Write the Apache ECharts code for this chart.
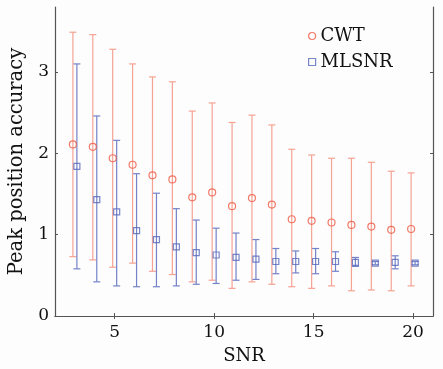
<!DOCTYPE html>
<html>
<head>
<meta charset="utf-8">
<style>
  html, body { margin: 0; padding: 0; background: #fdfdfd; }
  #chart { width: 443px; height: 369px; }
</style>
<script src="https://cdn.jsdelivr.net/npm/echarts@6/dist/echarts.min.js"></script>
</head>
<body>
<div id="chart"></div>
<script>
// SNR values
var snr = [3, 4, 5, 6, 7, 8, 9, 10, 11, 12, 13, 14, 15, 16, 17, 18, 19, 20];

// CWT: mean and error bar ends
var cwtMean = [2.11, 2.08, 1.94, 1.86, 1.73, 1.68, 1.46, 1.52, 1.35, 1.45, 1.37, 1.19, 1.17, 1.15, 1.12, 1.10, 1.06, 1.07];
var cwtHigh = [3.49, 3.46, 3.28, 3.10, 2.94, 2.88, 2.52, 2.62, 2.38, 2.47, 2.35, 2.05, 1.98, 1.94, 1.94, 1.89, 1.78, 1.76];
var cwtLow  = [0.73, 0.69, 0.60, 0.65, 0.55, 0.51, 0.42, 0.44, 0.34, 0.42, 0.39, 0.36, 0.34, 0.37, 0.31, 0.32, 0.31, 0.37];

// MLSNR: mean and error bar ends
var mlMean = [1.84, 1.43, 1.28, 1.05, 0.94, 0.85, 0.78, 0.75, 0.72, 0.70, 0.67, 0.67, 0.67, 0.67, 0.66, 0.65, 0.66, 0.65];
var mlHigh = [3.10, 2.46, 2.16, 1.75, 1.51, 1.32, 1.18, 1.08, 1.02, 0.94, 0.83, 0.80, 0.83, 0.79, 0.72, 0.67, 0.74, 0.67];
var mlLow  = [0.58, 0.42, 0.37, 0.36, 0.36, 0.37, 0.39, 0.40, 0.44, 0.45, 0.52, 0.53, 0.52, 0.55, 0.61, 0.63, 0.58, 0.63];

var xTicks = [5, 10, 15, 20];
var yTicks = [0, 1, 2, 3];

var fontName = "DejaVu Serif";
var red = "#ee5a45", redBar = "#f5a293";
var blue = "#5566bb", blueBar = "#7482c8";

// small horizontal shift so the two series do not overlap
var shift = 0.1;

function errData(lo, hi, dx) {
  return snr.map(function (s, i) { return [s + dx, lo[i], hi[i]]; });
}
function pts(mean, dx) {
  return snr.map(function (s, i) { return [s + dx, mean[i]]; });
}

function errRender(color) {
  return function (params, api) {
    var x = api.value(0);
    var lo = api.coord([x, api.value(1)]);
    var hi = api.coord([x, api.value(2)]);
    var w = 3.5;
    var st = { stroke: color, lineWidth: 1.2 };
    return {
      type: "group",
      children: [
        { type: "line", shape: { x1: lo[0], y1: lo[1], x2: hi[0], y2: hi[1] }, style: st },
        { type: "line", shape: { x1: lo[0] - w, y1: lo[1], x2: lo[0] + w, y2: lo[1] }, style: st },
        { type: "line", shape: { x1: hi[0] - w, y1: hi[1], x2: hi[0] + w, y2: hi[1] }, style: st }
      ]
    };
  };
}

var axisLineStyle = { show: true, lineStyle: { color: "#555", width: 1.2 } };
var tickStyle = { show: true, inside: true, length: 3, lineStyle: { color: "#555" } };

var myChart = echarts.init(document.getElementById("chart"));

var option = {
  animation: false,
  backgroundColor: "#fdfdfd",
  textStyle: { fontFamily: fontName },
  grid: { left: 55, right: 10, top: 7, bottom: 53, outerBoundsMode: "none" },
  legend: {
    orient: "vertical",
    left: 303,
    top: 22,
    itemWidth: 7,
    itemHeight: 7,
    itemGap: 8,
    textStyle: { fontFamily: fontName, fontSize: 18, color: "#111" },
    data: [
      { name: "CWT", icon: "circle", itemStyle: { color: "transparent", borderColor: red, borderWidth: 1.2 } },
      { name: "MLSNR", icon: "rect", itemStyle: { color: "transparent", borderColor: blue, borderWidth: 1.2 } }
    ]
  },
  xAxis: [{
    type: "value",
    min: 2, max: 21,
    name: "SNR",
    nameLocation: "middle",
    nameGap: 31,
    nameTextStyle: { fontFamily: fontName, fontSize: 18, color: "#111" },
    axisLine: axisLineStyle,
    splitLine: { show: false },
    axisLabel: {
      fontFamily: fontName, fontSize: 17, color: "#111", margin: 8,
      customValues: xTicks
    },
    axisTick: Object.assign({ customValues: xTicks }, tickStyle)
  }, {
    type: "value", position: "top", min: 2, max: 21,
    axisLine: axisLineStyle,
    axisTick: Object.assign({ customValues: xTicks }, tickStyle),
    axisLabel: { show: false },
    splitLine: { show: false }
  }],
  yAxis: [{
    type: "value",
    min: 0, max: 3.8,
    name: "Peak position accuracy",
    nameLocation: "middle",
    nameGap: 26,
    nameTextStyle: { fontFamily: fontName, fontSize: 19.5, color: "#111" },
    axisLine: axisLineStyle,
    splitLine: { show: false },
    axisLabel: {
      fontFamily: fontName, fontSize: 17, color: "#111", margin: 6,
      customValues: yTicks
    },
    axisTick: Object.assign({ customValues: yTicks }, tickStyle)
  }, {
    type: "value", position: "right", min: 0, max: 3.8,
    axisLine: axisLineStyle,
    axisTick: Object.assign({ customValues: yTicks }, tickStyle),
    axisLabel: { show: false },
    splitLine: { show: false }
  }],
  series: [
    {
      type: "custom",
      name: "CWT bars",
      renderItem: errRender(redBar),
      data: errData(cwtLow, cwtHigh, -shift),
      encode: { x: 0, y: [1, 2] },
      z: 1
    },
    {
      type: "custom",
      name: "MLSNR bars",
      renderItem: errRender(blueBar),
      data: errData(mlLow, mlHigh, shift),
      encode: { x: 0, y: [1, 2] },
      z: 1
    },
    {
      type: "scatter",
      name: "CWT",
      symbol: "circle",
      symbolSize: 7,
      itemStyle: { color: "transparent", borderColor: red, borderWidth: 1.2 },
      data: pts(cwtMean, -shift),
      z: 3
    },
    {
      type: "scatter",
      name: "MLSNR",
      symbol: "rect",
      symbolSize: 6,
      itemStyle: { color: "transparent", borderColor: blue, borderWidth: 1.2 },
      data: pts(mlMean, shift),
      z: 3
    }
  ]
};

if (option && typeof option === "object") {
  myChart.setOption(option, true);
}
</script>
</body>
</html>
